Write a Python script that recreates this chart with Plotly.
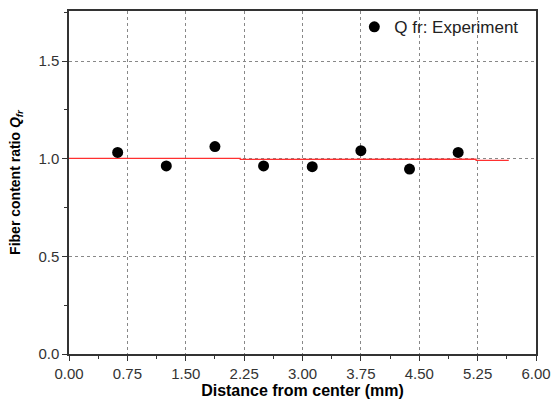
import plotly.graph_objects as go

distance_mm = [0.625, 1.25, 1.875, 2.5, 3.125, 3.75, 4.375, 5.0]
q_fr_experiment = [1.032, 0.963, 1.062, 0.963, 0.959, 1.041, 0.947, 1.032]

red_x = [0.0, 2.2, 2.2, 4.0, 4.0, 5.23, 5.23, 5.65]
red_y = [1.002, 1.002, 0.996, 0.996, 0.998, 0.998, 0.991, 0.991]

x_ticks = [0.0, 0.75, 1.5, 2.25, 3.0, 3.75, 4.5, 5.25, 6.0]
x_tick_labels = ["0.00", "0.75", "1.50", "2.25", "3.00", "3.75", "4.50", "5.25", "6.00"]
y_ticks = [0.0, 0.5, 1.0, 1.5]
y_tick_labels = ["0.0", "0.5", "1.0", "1.5"]

fig = go.Figure()
fig.add_trace(go.Scatter(x=red_x, y=red_y, mode="lines",
                         line=dict(color="#ff3030", width=1.2), showlegend=False,
                         hoverinfo="skip"))
fig.add_trace(go.Scatter(x=distance_mm, y=q_fr_experiment, mode="markers",
                         marker=dict(color="black", size=11),
                         name="Q fr: Experiment"))

axis_common = dict(
    showline=True, linecolor="#333333", linewidth=1.5, mirror=True,
    ticks="outside", ticklen=5, tickwidth=1.2, tickcolor="#333333",
    showgrid=True, gridcolor="#888888", griddash="dot", gridwidth=1,
    zeroline=False, automargin=False,
    tickfont=dict(family="Arial, Liberation Sans", size=15, color="#333333"),
)

fig.update_xaxes(**axis_common, range=[0, 6], tickvals=x_ticks, ticktext=x_tick_labels,
                 minor=dict(dtick=0.375, tick0=0, ticklen=3, tickwidth=1.2, tickcolor="#333333", showgrid=False),
                 title=dict(text="<b>Distance from center (mm)</b>", standoff=4,
                            font=dict(family="Arial, Liberation Sans", size=16, color="black")))
fig.update_yaxes(**axis_common, range=[0, 1.756], tickvals=y_ticks, ticktext=y_tick_labels,
                 minor=dict(dtick=0.25, tick0=0, ticklen=3, tickwidth=1.2, tickcolor="#333333", showgrid=False),
                 title=dict(text="<b>Fiber content ratio <i>Q</i><sub><i>fr</i></sub></b>", standoff=14,
                            font=dict(family="Arial, Liberation Sans", size=14, color="black")))

fig.update_layout(
    width=552, height=403,
    margin=dict(l=69, r=16, t=11, b=49, autoexpand=False),
    paper_bgcolor="white", plot_bgcolor="white",
    legend=dict(x=0.975, y=1.005, xanchor="right", yanchor="top",
                bgcolor="rgba(0,0,0,0)", borderwidth=0,
                font=dict(family="Arial, Liberation Sans", size=17, color="#222222")),
)

fig.write_html("out.html")
